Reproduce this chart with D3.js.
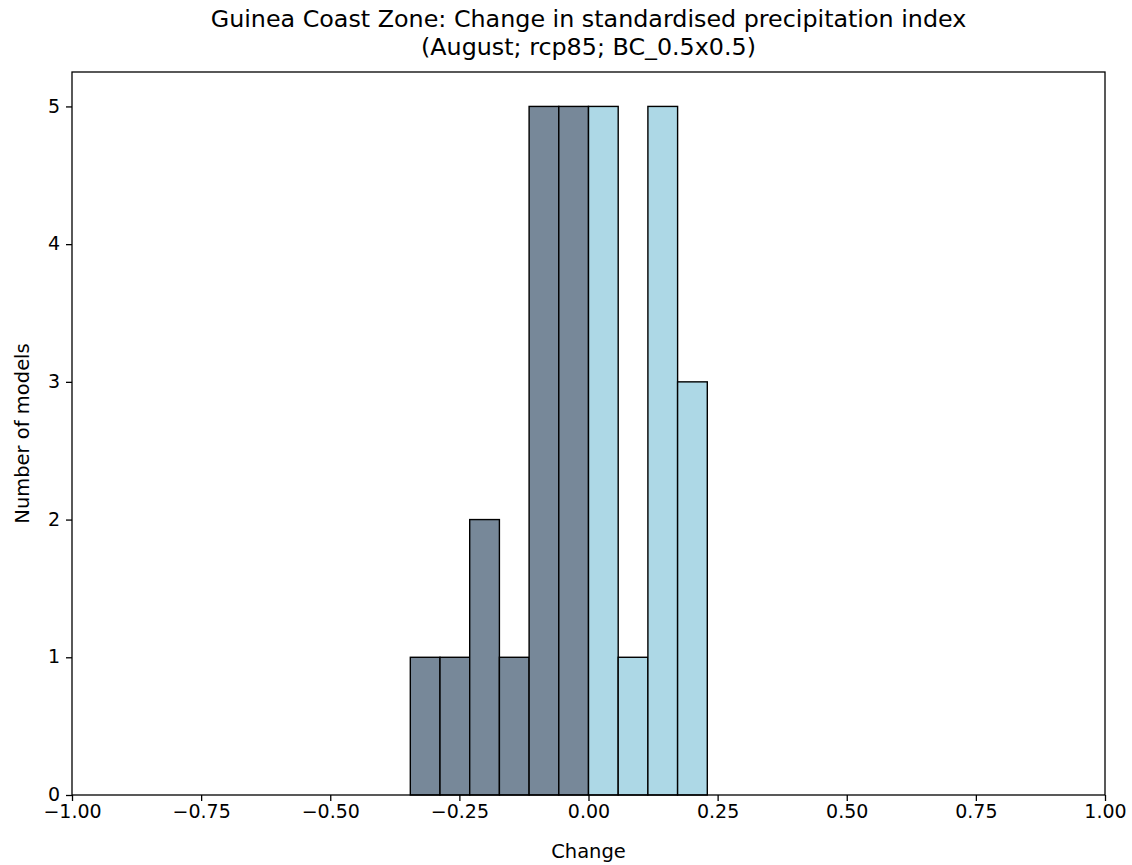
<!DOCTYPE html>
<html><head><meta charset="utf-8">
<script src="https://cdn.jsdelivr.net/npm/d3@7"></script>
<style>body{margin:0;background:#fff}svg{display:block}text{font-family:"DejaVu Sans",sans-serif;fill:#000}</style>
</head><body><svg id="c" width="1132" height="865"></svg>
<script>
const binEdges = [-0.345,-0.2875,-0.23,-0.1725,-0.115,-0.0575,0,0.0575,0.115,0.1725,0.23,0.2875,0.345];
const counts   = [1,1,2,1,5,5,5,1,5,3,0,0];
const xTicks = [-1,-0.75,-0.5,-0.25,0,0.25,0.5,0.75,1];
const yTicks = [0,1,2,3,4,5];
const titleLines = ["Guinea Coast Zone: Change in standardised precipitation index","(August; rcp85; BC_0.5x0.5)"];
const negColor = "#778899", posColor = "#add8e6";

const svg = d3.select("#c");
const L=72, R=1105, T=72, B=795;
const x = d3.scaleLinear().domain([-1,1]).range([L,R]);
const y = d3.scaleLinear().domain([0,5.25]).range([B,T]);

const bins = counts.map((c,i)=>({x0:binEdges[i],x1:binEdges[i+1],c}));
svg.append("g").selectAll("rect").data(bins).join("rect")
  .attr("x",d=>x(d.x0)).attr("width",d=>x(d.x1)-x(d.x0))
  .attr("y",d=>y(d.c)).attr("height",d=>y(0)-y(d.c))
  .attr("fill",d=>d.x0<0?negColor:posColor)
  .attr("stroke","#000").attr("stroke-width",1.4);

const fmt = d=>d3.format(".2f")(d).replace("-","\u2212");
const xa = svg.append("g").attr("transform",`translate(0,${B})`)
  .call(d3.axisBottom(x).tickValues(xTicks).tickFormat(fmt).tickSize(6).tickPadding(4));
const ya = svg.append("g").attr("transform",`translate(${L},0)`)
  .call(d3.axisLeft(y).tickValues(yTicks).tickFormat(d3.format("d")).tickSize(6).tickPadding(6));
[xa,ya].forEach(a=>{a.select(".domain").remove();a.selectAll("line").attr("stroke","#000").attr("stroke-width",1.3);
  a.selectAll("text").style("font-size","19px").style("font-family","DejaVu Sans").attr("fill","#000");});
ya.selectAll("text").attr("dy","0.3em");

svg.append("rect").attr("x",L).attr("y",T).attr("width",R-L).attr("height",B-T)
  .attr("fill","none").attr("stroke","#000").attr("stroke-width",1.3);

svg.append("text").attr("x",(L+R)/2).attr("y",27).attr("text-anchor","middle").style("font-size","23.8px").text(titleLines[0]);
svg.append("text").attr("x",(L+R)/2).attr("y",55).attr("text-anchor","middle").style("font-size","23.8px").text(titleLines[1]);
svg.append("text").attr("x",(L+R)/2).attr("y",858).attr("text-anchor","middle").style("font-size","19.5px").text("Change");
svg.append("text").attr("transform",`translate(29,${(T+B)/2}) rotate(-90)`).attr("text-anchor","middle").style("font-size","19.5px").text("Number of models");
</script></body></html>
